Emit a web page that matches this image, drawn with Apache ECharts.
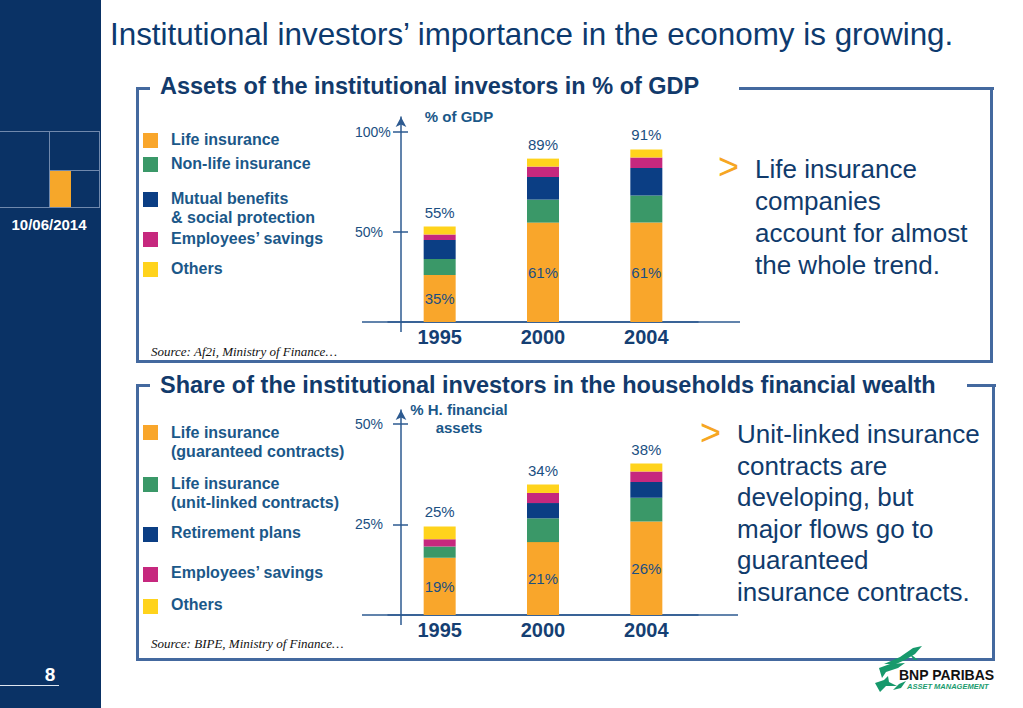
<!DOCTYPE html>
<html><head><meta charset="utf-8">
<script src="https://cdn.jsdelivr.net/npm/echarts@6/dist/echarts.min.js"></script>
<style>
html,body{margin:0;padding:0;width:1023px;height:708px;overflow:hidden;background:#fff;font-family:'Liberation Sans',Arial,sans-serif;}
#side{position:absolute;left:0;top:0;width:101px;height:708px;background:#0a3265;}
.ln{position:absolute;background:#7089ad;}
.bd{position:absolute;background:#44699f;}
.lg{position:absolute;left:171px;font-size:16px;font-weight:bold;color:#1b5889;line-height:18.5px;white-space:nowrap;}
.sq{position:absolute;left:143px;width:15px;height:15px;}
.src{position:absolute;left:151px;font-family:'Liberation Serif','Times New Roman',serif;font-style:italic;font-size:13px;color:#111;line-height:14px;white-space:nowrap;}
.hd{position:absolute;left:160px;font-size:23.5px;font-weight:bold;color:#123a6b;line-height:23px;white-space:nowrap;}
.txt{position:absolute;font-size:26px;color:#103b6c;white-space:nowrap;}
.gt{position:absolute;font-size:36px;color:#f6a623;line-height:36px;}
.an{position:absolute;font-size:15px;font-weight:bold;color:#1b5889;line-height:18px;text-align:center;white-space:nowrap;}
#chart{position:absolute;left:0;top:0;width:1023px;height:708px;z-index:2;}
</style></head>
<body>
<div id="side"></div>
<div class="ln" style="left:0;top:131px;width:100px;height:1px;"></div>
<div class="ln" style="left:0;top:207px;width:100px;height:1px;"></div>
<div class="ln" style="left:99px;top:131px;width:1px;height:77px;"></div>
<div class="ln" style="left:49px;top:131px;width:1px;height:77px;"></div>
<div class="ln" style="left:49px;top:170px;width:51px;height:1px;"></div>
<div style="position:absolute;left:50px;top:171px;width:21px;height:36px;background:#f6a72a;"></div>
<div style="position:absolute;left:0;top:217px;width:98px;text-align:center;color:#fff;font-weight:bold;font-size:15px;line-height:16px;">10/06/2014</div>
<div style="position:absolute;left:40px;top:665px;width:20px;text-align:center;color:#fff;font-weight:bold;font-size:19px;line-height:19px;">8</div>
<div style="position:absolute;left:0;top:685px;width:59px;height:1px;background:#dfe6f0;"></div>

<div style="position:absolute;left:110px;top:19px;font-size:31.4px;line-height:31px;color:#0d3a6e;white-space:nowrap;">Institutional investors’ importance in the economy is growing.</div>

<!-- top box -->
<div class="bd" style="left:136px;top:87px;width:3px;height:276px;"></div>
<div class="bd" style="left:136px;top:87px;width:14px;height:3px;"></div>
<div class="bd" style="left:739px;top:87px;width:255px;height:3px;"></div>
<div class="bd" style="left:990px;top:87px;width:3px;height:276px;"></div>
<div class="bd" style="left:136px;top:360px;width:857px;height:3px;"></div>
<div class="hd" style="top:74.5px;">Assets of the institutional investors in % of GDP</div>

<!-- bottom box -->
<div class="bd" style="left:136px;top:384px;width:3px;height:277px;"></div>
<div class="bd" style="left:136px;top:384px;width:14px;height:3px;"></div>
<div class="bd" style="left:967px;top:384px;width:29px;height:3px;"></div>
<div class="bd" style="left:992px;top:384px;width:3px;height:277px;"></div>
<div class="bd" style="left:136px;top:658px;width:859px;height:3px;"></div>
<div class="hd" style="top:373.5px;">Share of the institutional investors in the households financial wealth</div>

<!-- legends top -->
<div class="sq" style="top:133px;background:#f9a62b;"></div>
<div class="lg" style="top:131px;">Life insurance</div>
<div class="sq" style="top:157px;background:#3a9868;"></div>
<div class="lg" style="top:155px;">Non-life insurance</div>
<div class="sq" style="top:192px;background:#0b3e84;"></div>
<div class="lg" style="top:190px;">Mutual benefits<br>&amp; social protection</div>
<div class="sq" style="top:232px;background:#c6287e;"></div>
<div class="lg" style="top:230px;">Employees’ savings</div>
<div class="sq" style="top:262px;background:#ffd31c;"></div>
<div class="lg" style="top:260px;">Others</div>
<div class="src" style="top:345px;">Source: Af2i, Ministry of Finance…</div>

<!-- legends bottom -->
<div class="sq" style="top:425px;background:#f9a62b;"></div>
<div class="lg" style="top:424px;">Life insurance<br>(guaranteed contracts)</div>
<div class="sq" style="top:477px;background:#3a9868;"></div>
<div class="lg" style="top:475px;">Life insurance<br>(unit-linked contracts)</div>
<div class="sq" style="top:527px;background:#0b3e84;"></div>
<div class="lg" style="top:524px;">Retirement plans</div>
<div class="sq" style="top:567px;background:#c6287e;"></div>
<div class="lg" style="top:564px;">Employees’ savings</div>
<div class="sq" style="top:599px;background:#ffd31c;"></div>
<div class="lg" style="top:596px;">Others</div>
<div class="src" style="top:637px;">Source: BIPE, Ministry of Finance…</div>

<!-- axis names -->
<div class="an" style="left:409px;top:108px;width:100px;">% of GDP</div>
<div class="an" style="left:409px;top:401px;width:100px;">% H. financial<br>assets</div>

<!-- right texts -->
<div class="gt" style="left:718px;top:149px;">&gt;</div>
<div class="txt" style="left:755px;top:153px;line-height:32px;">Life insurance<br>companies<br>account for almost<br>the whole trend.</div>
<div class="gt" style="left:700px;top:415px;">&gt;</div>
<div class="txt" style="left:737px;top:419px;line-height:31.6px;">Unit-linked insurance<br>contracts are<br>developing, but<br>major flows go to<br>guaranteed<br>insurance contracts.</div>

<!-- logo -->
<svg style="position:absolute;left:870px;top:644px;" width="60" height="52" viewBox="870 644 60 52">
<g fill="#17996c">
<polygon points="884,664 900,657 913,648 922,646 915,654 905,660 896,664"/>
<polygon points="908,652 918,660 914,660"/>
<polygon points="879,668 890,664 905,663 898,668 886,672 882,678"/>
<polygon points="875,683 884,680 888,676 889,682 897,686 886,686 880,692"/>
<polygon points="893,690 899,684 906,681 901,688"/>
</g>
</svg>
<div style="position:absolute;left:899px;top:668px;font-size:14px;font-weight:bold;color:#111;line-height:14px;white-space:nowrap;">BNP PARIBAS</div>
<div style="position:absolute;left:907px;top:683px;font-size:7.5px;font-weight:bold;font-style:italic;color:#1a9b6e;line-height:8px;white-space:nowrap;">ASSET MANAGEMENT</div>

<div id="chart"></div>
<script>
// ---- data ----
const years = ['1995', '2000', '2004'];

// Chart 1: assets of institutional investors, % of GDP (segment heights as drawn)
const gdpLifeInsurance = [28.5, 54.7, 54.7];
const gdpNonLifeInsurance = [8.0, 11.5, 13.5];
const gdpMutualBenefits = [9.5, 11.3, 13.8];
const gdpEmployeesSavings = [2.7, 5.2, 5.3];
const gdpOthers = [4.0, 4.0, 4.0];
const gdpLifeLabels = ['35%', '61%', '61%'];
const gdpTotalLabels = ['55%', '89%', '91%'];
const gdpTicks = [50, 100];

// Chart 2: share in households financial wealth, % (segment heights as drawn)
const hhLifeGuaranteed = [16.7, 20.6, 25.7];
const hhLifeUnitLinked = [2.8, 5.9, 5.9];
const hhRetirementPlans = [0, 3.8, 3.9];
const hhEmployeesSavings = [1.8, 2.5, 2.6];
const hhOthers = [3.2, 2.1, 2.0];
const hhLifeLabels = ['19%', '21%', '26%'];
const hhTotalLabels = ['25%', '34%', '38%'];
const hhTicks = [25, 50];

// ---- style ----
const segColors = ['#f9a62b', '#3a9868', '#0b3e84', '#c6287e', '#ffd31c'];
const axisColor = '#2d5a90';
const labelColor = '#1b4f82';
const FONT = "'Liberation Sans', Arial, sans-serif";

function makeSeries(names, arrays, axisIdx, yIdx, stackId, lifeLabels, totalLabels) {
  return arrays.map((arr, i) => {
    const s = {
      type: 'bar', name: names[i], stack: stackId,
      xAxisIndex: axisIdx, yAxisIndex: yIdx,
      data: arr, barWidth: 32,
      itemStyle: { color: segColors[i] },
      emphasis: { disabled: true },
      label: { show: false }
    };
    if (i === 0) {
      s.label = { show: true, position: 'inside', color: labelColor, fontSize: 15, fontFamily: FONT,
        formatter: p => lifeLabels[p.dataIndex] };
    }
    if (i === arrays.length - 1) {
      s.label = { show: true, position: 'top', distance: 7, color: labelColor, fontSize: 15, fontFamily: FONT,
        formatter: p => totalLabels[p.dataIndex] };
    }
    return s;
  });
}

function mainY(grid, min, max, ticks) {
  return {
    type: 'value', gridIndex: grid, position: 'left', min: min, max: max, offset: -13,
    axisLine: { show: true, lineStyle: { color: axisColor, width: 1.5 }, symbol: ['none', 'arrow'], symbolSize: [8, 10] },
    axisTick: { show: true, length: 8, lineStyle: { color: axisColor, width: 1.5 }, customValues: ticks },
    axisLabel: { customValues: ticks, formatter: v => v + '%', align: 'left', margin: 46,
      color: labelColor, fontSize: 14, fontFamily: FONT },
    splitLine: { show: false }
  };
}
function innerTickY(grid, min, max, ticks) {
  return {
    type: 'value', gridIndex: grid, position: 'left', min: min, max: max, offset: -13,
    axisLine: { show: false },
    axisTick: { show: true, inside: true, length: 7, lineStyle: { color: axisColor, width: 1.5 }, customValues: ticks },
    axisLabel: { show: false },
    splitLine: { show: false }
  };
}
function catX(grid) {
  return {
    type: 'category', gridIndex: grid, data: years,
    axisLine: { show: true, lineStyle: { color: axisColor, width: 1.5 } },
    axisTick: { show: false },
    axisLabel: { color: '#153f73', fontSize: 20, fontWeight: 'bold', margin: 5, fontFamily: FONT }
  };
}

const chart = echarts.init(document.getElementById('chart'), null, { renderer: 'svg' });
chart.setOption({
  animation: false,
  textStyle: { fontFamily: FONT },
  grid: [
    { left: 388, width: 310, top: 117, height: 205 },
    { left: 388, width: 310, top: 410, height: 205 }
  ],
  xAxis: [catX(0), catX(1)],
  yAxis: [
    mainY(0, 5, 107.5, gdpTicks), innerTickY(0, 5, 107.5, gdpTicks),
    mainY(1, 2.5, 53.4, hhTicks), innerTickY(1, 2.5, 53.4, hhTicks)
  ],
  series: [].concat(
    makeSeries(['Life insurance', 'Non-life insurance', 'Mutual benefits & social protection', 'Employees’ savings', 'Others'],
      [gdpLifeInsurance, gdpNonLifeInsurance, gdpMutualBenefits, gdpEmployeesSavings, gdpOthers], 0, 0, 'gdp', gdpLifeLabels, gdpTotalLabels),
    makeSeries(['Life insurance (guaranteed contracts)', 'Life insurance (unit-linked contracts)', 'Retirement plans', 'Employees’ savings', 'Others'],
      [hhLifeGuaranteed, hhLifeUnitLinked, hhRetirementPlans, hhEmployeesSavings, hhOthers], 1, 2, 'hh', hhLifeLabels, hhTotalLabels)
  ),
  graphic: [
    { type: 'line', shape: { x1: 362, y1: 322, x2: 740, y2: 322 }, style: { stroke: axisColor, lineWidth: 1.5 } },
    { type: 'line', shape: { x1: 401, y1: 322, x2: 401, y2: 332 }, style: { stroke: axisColor, lineWidth: 1.5 } },
    { type: 'line', shape: { x1: 362, y1: 615, x2: 738, y2: 615 }, style: { stroke: axisColor, lineWidth: 1.5 } },
    { type: 'line', shape: { x1: 401, y1: 615, x2: 401, y2: 625 }, style: { stroke: axisColor, lineWidth: 1.5 } }
  ]
});
</script>
</body></html>
